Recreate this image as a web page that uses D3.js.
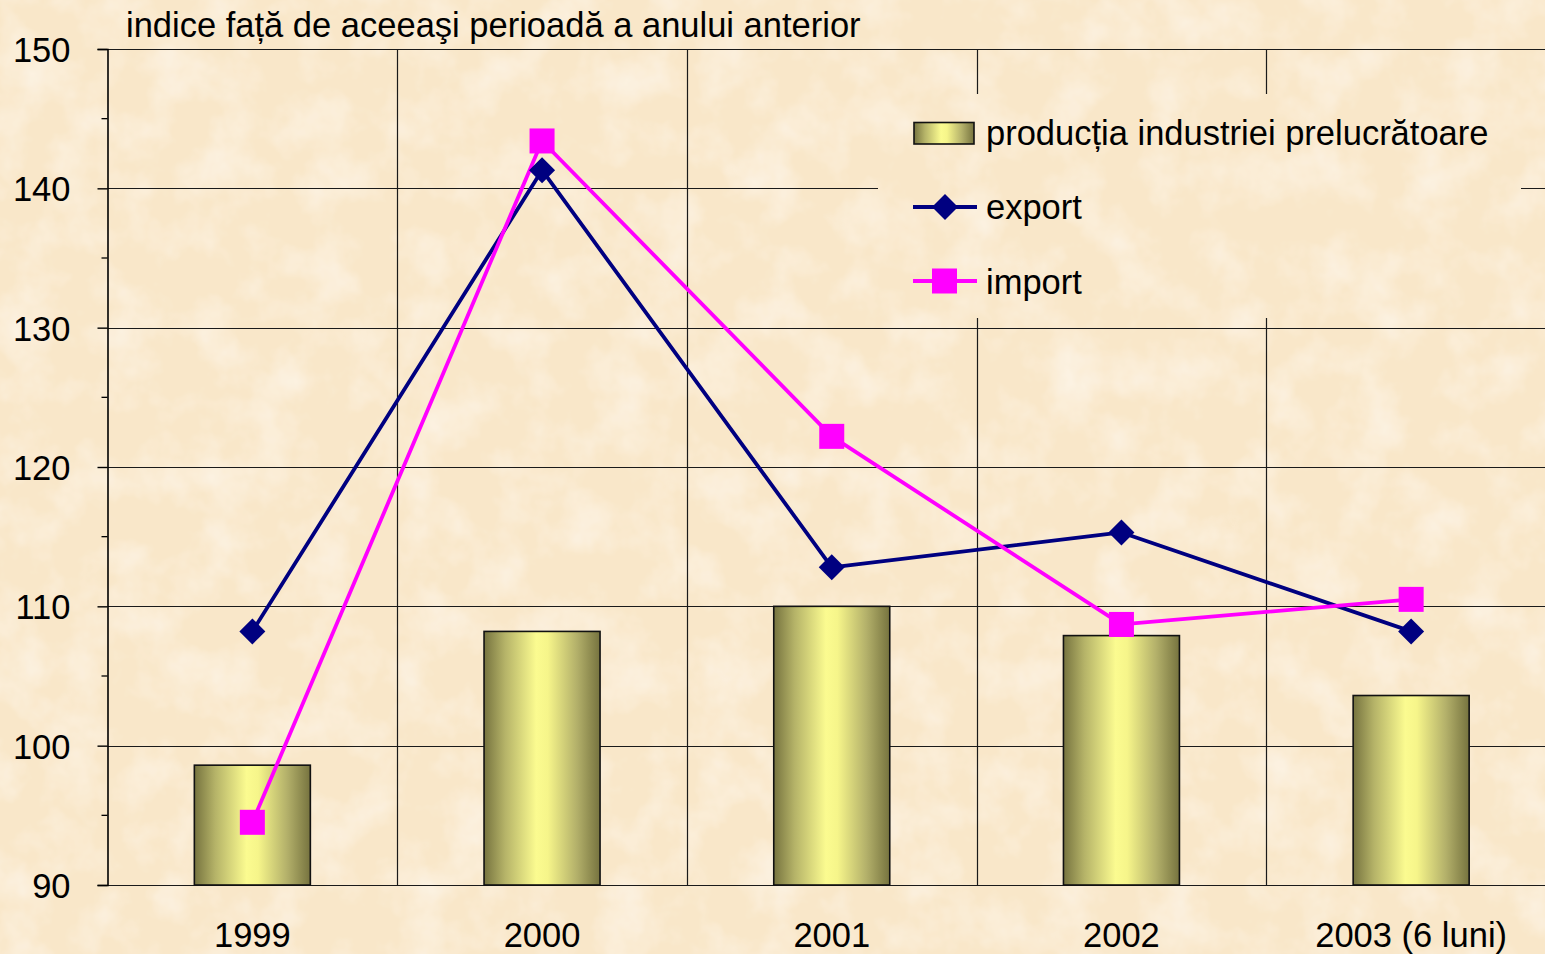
<!DOCTYPE html>
<html>
<head>
<meta charset="utf-8">
<script src="https://cdn.jsdelivr.net/npm/d3@7"></script>
<style>
  html, body { margin: 0; padding: 0; background: #f9e7c9; }
  svg { display: block; }
  text { font-family: "Liberation Sans", Arial, sans-serif; fill: #000; }
</style>
</head>
<body>
<svg id="chart" width="1545" height="954"></svg>
<script>
// ---- data ----
const categories = ["1999", "2000", "2001", "2002", "2003 (6 luni)"];
const productie = [98.6, 108.2, 110.0, 107.9, 103.6];
const exportVals = [108.2, 141.3, 112.8, 115.3, 108.2];
const importVals = [94.5, 143.4, 122.2, 108.7, 110.5];
const yTicks = [90, 100, 110, 120, 130, 140, 150];
const yMinorTicks = [95, 105, 115, 125, 135, 145];
const titleText = "indice față de aceeaşi perioadă a anului anterior";
const legendLabels = ["producția industriei prelucrătoare", "export", "import"];

const W = 1545, H = 954;
const FS = 34.5;
const BG = "#f9e7c9";
const svg = d3.select("#chart");
const defs = svg.append("defs");

// parchment texture: subtle light blotches over cream base
const filt = defs.append("filter").attr("id", "paper").attr("x", 0).attr("y", 0).attr("width", "100%").attr("height", "100%");
filt.append("feTurbulence").attr("type", "fractalNoise").attr("baseFrequency", "0.02").attr("numOctaves", 4).attr("seed", 3).attr("result", "noise");
filt.append("feColorMatrix").attr("in", "noise").attr("type", "matrix")
  .attr("values", "0 0 0 0 1  0 0 0 0 0.98  0 0 0 0 0.94  1.0 0 0 0 -0.42")
  .attr("result", "col");
filt.append("feComposite").attr("in", "col").attr("in2", "SourceGraphic").attr("operator", "atop");

svg.append("rect").attr("width", W).attr("height", H).attr("fill", BG);
svg.append("rect").attr("width", W).attr("height", H).attr("fill", BG).attr("filter", "url(#paper)");

// bar gradient
const grad = defs.append("linearGradient").attr("id", "barGrad").attr("x1", "0%").attr("x2", "100%").attr("y1", "0%").attr("y2", "0%");
[[0, "#76733f"], [0.18, "#b5b368"], [0.45, "#fbfb90"], [0.55, "#f6f58a"], [0.8, "#b3b06a"], [1, "#76733f"]]
  .forEach(([o, c]) => grad.append("stop").attr("offset", o).attr("stop-color", c));

// ---- scales ----
const plotTop = 49, plotBottom = 885, plotLeft = 107.5;
const x = d3.scaleBand().domain(categories).range([plotLeft, plotLeft + 5 * 289.7]).padding(0);
const y = d3.scaleLinear().domain([90, 150]).range([plotBottom, plotTop]);
const bw = x.bandwidth();
const cx = c => x(c) + bw / 2;

const g = svg.append("g");

// horizontal grid lines
g.selectAll("line.hgrid").data(yTicks).join("line")
  .attr("x1", plotLeft).attr("x2", W)
  .attr("y1", d => Math.round(y(d)) + 0.5).attr("y2", d => Math.round(y(d)) + 0.5)
  .attr("stroke", "#1a1a1a").attr("stroke-width", 1.2);

// vertical grid lines at category boundaries
g.selectAll("line.vgrid").data(categories.slice(1)).join("line")
  .attr("x1", d => Math.round(x(d)) + 0.5).attr("x2", d => Math.round(x(d)) + 0.5)
  .attr("y1", plotTop).attr("y2", plotBottom)
  .attr("stroke", "#1a1a1a").attr("stroke-width", 1.2);

// y axis
const yAxis = d3.axisLeft(y).tickValues(yTicks).tickSize(10).tickPadding(27).tickFormat(d3.format("d"));
const ya = g.append("g").attr("transform", `translate(${plotLeft},0)`).call(yAxis);
ya.select(".domain").attr("stroke", "#000").attr("stroke-width", 1.6);
ya.selectAll(".tick line").attr("stroke", "#000").attr("stroke-width", 1.4);
ya.selectAll(".tick text").attr("font-size", FS).attr("font-family", "Liberation Sans, Arial, sans-serif").attr("fill", "#000").attr("dy", "0.36em");
g.selectAll("line.minor").data(yMinorTicks).join("line")
  .attr("x1", plotLeft - 6).attr("x2", plotLeft)
  .attr("y1", d => y(d)).attr("y2", d => y(d))
  .attr("stroke", "#000").attr("stroke-width", 1.3);

// bars
g.selectAll("rect.bar").data(categories).join("rect")
  .attr("x", (d) => cx(d) - 58).attr("width", 116)
  .attr("y", (d, i) => y(productie[i])).attr("height", (d, i) => y(90) - y(productie[i]))
  .attr("fill", "url(#barGrad)").attr("stroke", "#111").attr("stroke-width", 1.6);

// x labels
g.selectAll("text.xl").data(categories).join("text")
  .attr("x", d => cx(d)).attr("y", 947).attr("text-anchor", "middle").attr("font-size", FS)
  .text(d => d);

// lines
const lineGen = d3.line().x((d, i) => cx(categories[i])).y(d => y(d));
g.append("path").datum(exportVals).attr("d", lineGen).attr("fill", "none").attr("stroke", "#000080").attr("stroke-width", 3.8).attr("stroke-linejoin", "round");
g.append("path").datum(importVals).attr("d", lineGen).attr("fill", "none").attr("stroke", "#ff00ff").attr("stroke-width", 3.8).attr("stroke-linejoin", "round");

const diamond = s => `M0,${-s}L${s},0L0,${s}L${-s},0Z`;
g.selectAll("path.dia").data(exportVals).join("path")
  .attr("d", diamond(13)).attr("transform", (d, i) => `translate(${cx(categories[i])},${y(d)})`).attr("fill", "#000080");
g.selectAll("rect.sq").data(importVals).join("rect")
  .attr("x", (d, i) => cx(categories[i]) - 12.5).attr("y", d => y(d) - 12.5)
  .attr("width", 25).attr("height", 25).attr("fill", "#ff00ff");

// title
svg.append("text").attr("x", 126).attr("y", 37).attr("font-size", FS).text(titleText);

// legend (covers grid)
const lg = svg.append("g");
lg.append("rect").attr("x", 878).attr("y", 94).attr("width", 643).attr("height", 224).attr("fill", BG);
lg.append("rect").attr("x", 878).attr("y", 94).attr("width", 643).attr("height", 224).attr("fill", BG).attr("filter", "url(#paper)");
lg.append("rect").attr("x", 914).attr("y", 122.5).attr("width", 60).attr("height", 21.5)
  .attr("fill", "url(#barGrad)").attr("stroke", "#111").attr("stroke-width", 1.6);
lg.append("line").attr("x1", 913).attr("x2", 977).attr("y1", 207).attr("y2", 207).attr("stroke", "#000080").attr("stroke-width", 3.8);
lg.append("path").attr("d", diamond(13)).attr("transform", "translate(945,207)").attr("fill", "#000080");
lg.append("line").attr("x1", 913).attr("x2", 977).attr("y1", 281).attr("y2", 281).attr("stroke", "#ff00ff").attr("stroke-width", 3.8);
lg.append("rect").attr("x", 932).attr("y", 268.5).attr("width", 25).attr("height", 25).attr("fill", "#ff00ff");
const ly = [145, 219, 294];
lg.selectAll("text.lt").data(legendLabels).join("text")
  .attr("x", 986).attr("y", (d, i) => ly[i]).attr("font-size", FS)
  .text(d => d);
</script>
</body>
</html>
